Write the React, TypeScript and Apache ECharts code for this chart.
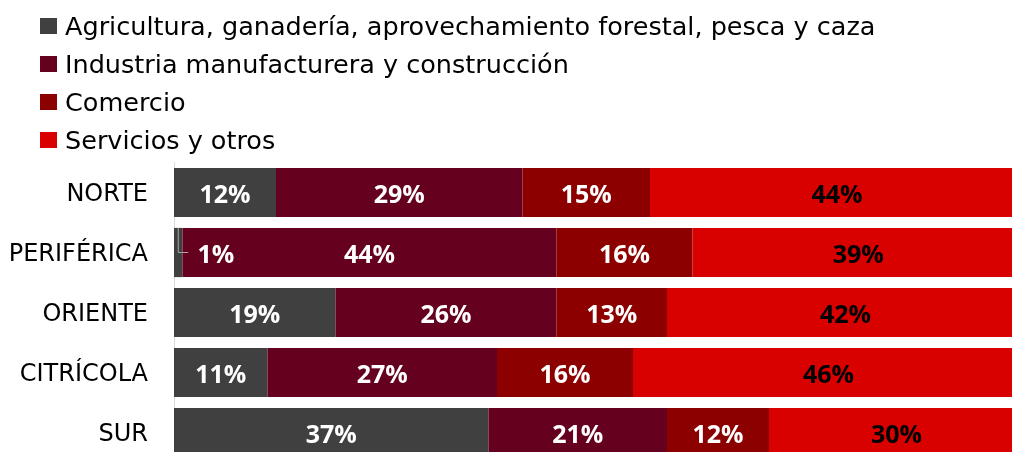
import React, { useEffect, useRef } from "react";
import * as echarts from "echarts";

const categories = ["NORTE", "PERIFÉRICA", "ORIENTE", "CITRÍCOLA", "SUR"];
const seriesNames = [
  "Agricultura, ganadería, aprovechamiento forestal, pesca y caza",
  "Industria manufacturera y construcción",
  "Comercio",
  "Servicios y otros",
];
const agricultura = [12, 1, 19, 11, 37];
const industria = [29, 44, 26, 27, 21];
const comercio = [15, 16, 13, 16, 12];
const servicios = [44, 39, 42, 46, 30];
const colors = ["#404040", "#65001f", "#8c0000", "#d90000"];
const labelColors = ["#ffffff", "#ffffff", "#ffffff", "#000000"];

const FONT = "'DejaVu Sans', sans-serif";
const NUM_FONT = "'Open Sans', sans-serif";

export default function App() {
  const ref = useRef<HTMLDivElement>(null);
  useEffect(() => {
    if (!ref.current) return;
    const chart = echarts.init(ref.current, null, { renderer: "svg" });
    const values = [agricultura, industria, comercio, servicios];
    const series = values.map((vals, i) => ({
      name: seriesNames[i],
      type: "bar",
      stack: "total",
      barCategoryGap: "18%",
      itemStyle: { color: colors[i] },
      label: {
        show: true,
        position: "inside",
        formatter: (p: any) => p.value + "%",
        color: labelColors[i],
        fontFamily: NUM_FONT,
        fontWeight: "bold",
        fontSize: 25,
      },
      data: vals.map((v) =>
        v < 3
          ? {
              value: v,
              label: { position: "right", distance: 15 },
            }
          : v
      ),
    }));
    const option: any = {
      animation: false,
      textStyle: { fontFamily: FONT },
      legend: {
        orient: "vertical",
        left: 40,
        top: 13,
        padding: 0,
        itemWidth: 17,
        itemHeight: 16,
        itemGap: 12,
        icon: "rect",
        textStyle: {
          fontSize: 25.5,
          color: "#000",
          fontFamily: FONT,
          lineHeight: 24,
          padding: [0, 0, 0, 3],
        },
        data: seriesNames,
      },
      grid: {
        left: 174,
        top: 162.5,
        width: 850,
        height: 300,
        containLabel: false,
        outerBoundsMode: "none",
      },
      xAxis: {
        type: "value",
        min: 0,
        max: 100,
        show: false,
      },
      yAxis: {
        type: "category",
        inverse: true,
        data: categories,
        axisLine: { show: true, lineStyle: { color: "#d9d9d9", width: 1 } },
        axisTick: { show: false },
        axisLabel: { fontSize: 24, color: "#000", margin: 26, fontFamily: FONT },
      },
      series,
    };
    chart.setOption(option);

    // leader line for tiny segments
    const graphics: any[] = [];
    agricultura.forEach((v, j) => {
      if (v < 3) {
        const c = chart.convertToPixel({ xAxisIndex: 0, yAxisIndex: 0 }, [v / 2, j]) as number[];
        const c2 = chart.convertToPixel({ xAxisIndex: 0, yAxisIndex: 0 }, [v / 2, j + 1]) as number[];
        const band = Math.abs(c2[1] - c[1]);
        const half = (band * 0.82) / 2;
        graphics.push({
          type: "polyline",
          shape: {
            points: [
              [c[0], c[1] - half],
              [c[0], c[1]],
              [c[0] + 10, c[1]],
            ],
          },
          style: { stroke: "#a6a6a6", lineWidth: 1, fill: null },
          z: 10,
        });
      }
    });
    chart.setOption({ graphic: graphics });
    return () => chart.dispose();
  }, []);
  return (
    <div
      ref={ref}
      style={{ position: "fixed", left: 0, top: 0, width: 1024, height: 463 }}
    />
  );
}
